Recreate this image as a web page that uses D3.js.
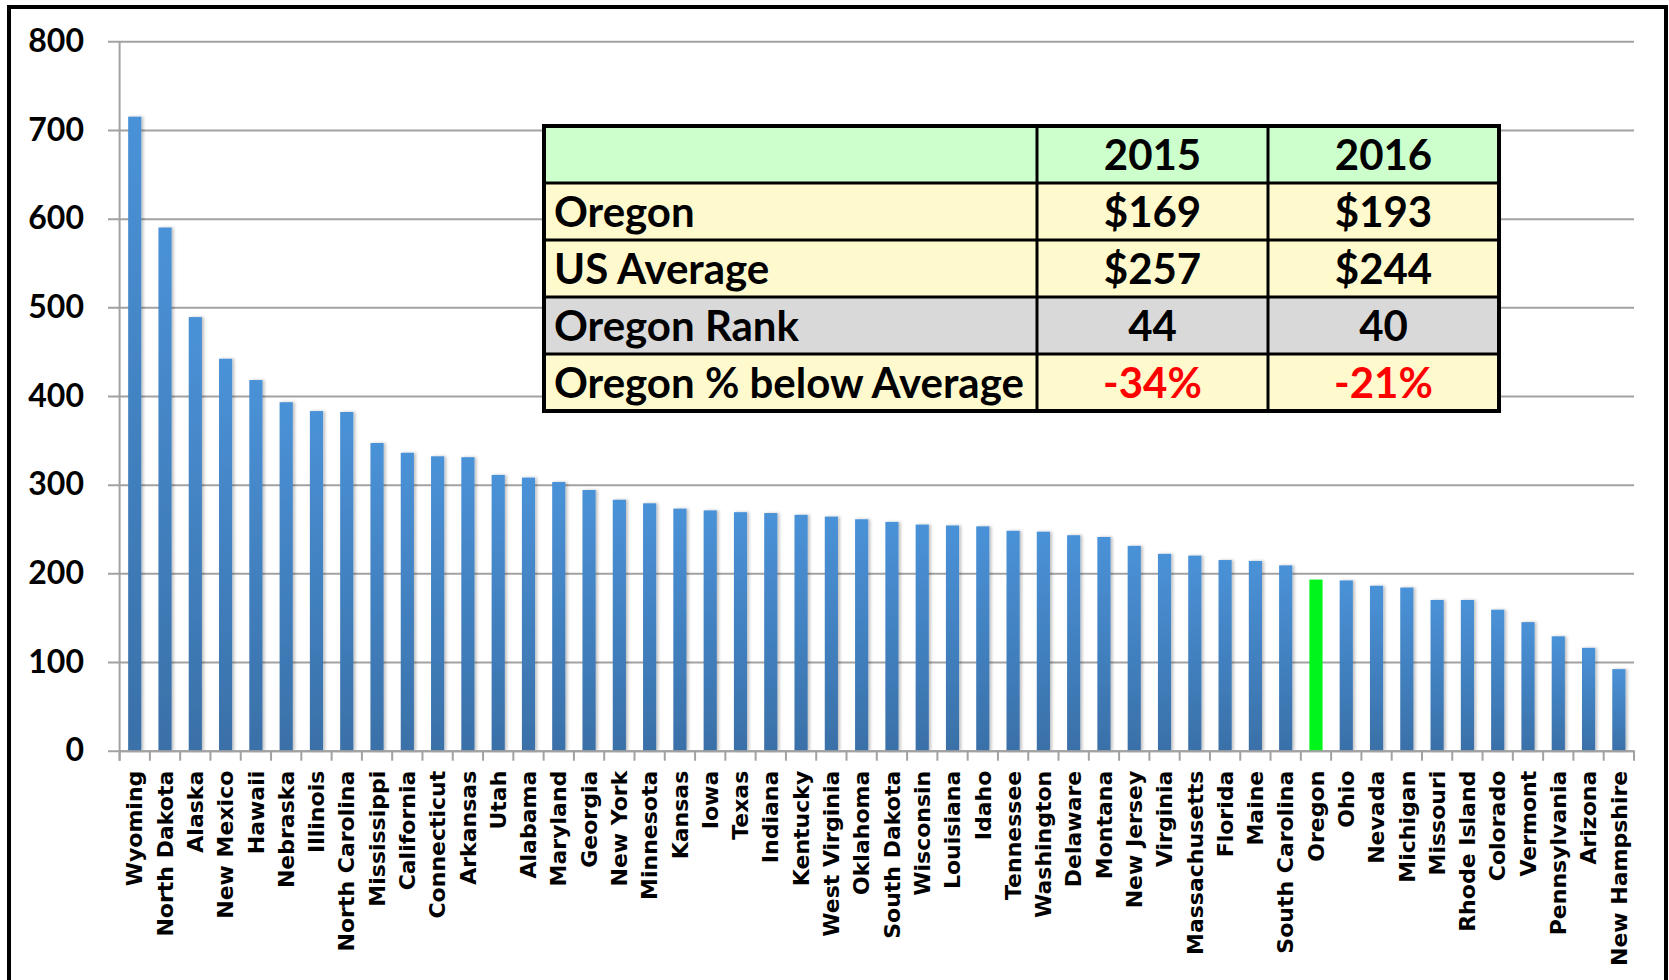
<!DOCTYPE html>
<html>
<head>
<meta charset="utf-8">
<script src="https://cdnjs.cloudflare.com/ajax/libs/d3/7.8.5/d3.min.js"></script>
<style>
  body { margin: 0; background: #fff; }
</style>
</head>
<body>
<div id="chart"></div>
<script>
var svgWidth = 1669;
var svgHeight = 980;

// plot area (pixels)
var plot = { left: 119.6, right: 1634, top: 41.3, bottom: 750.7 };

// per-state values, sorted high to low
var states = ["Wyoming", "North Dakota", "Alaska", "New Mexico", "Hawaii", "Nebraska",
  "Illinois", "North Carolina", "Mississippi", "California", "Connecticut", "Arkansas",
  "Utah", "Alabama", "Maryland", "Georgia", "New York", "Minnesota", "Kansas", "Iowa",
  "Texas", "Indiana", "Kentucky", "West Virginia", "Oklahoma", "South Dakota", "Wisconsin",
  "Louisiana", "Idaho", "Tennessee", "Washington", "Delaware", "Montana", "New Jersey",
  "Virginia", "Massachusetts", "Florida", "Maine", "South Carolina", "Oregon", "Ohio",
  "Nevada", "Michigan", "Missouri", "Rhode Island", "Colorado", "Vermont", "Pennsylvania",
  "Arizona", "New Hampshire"];
var values = [715, 590, 489, 442, 418, 393, 383, 382, 347, 336, 332, 331, 311, 308, 303,
  294, 283, 279, 273, 271, 269, 268, 266, 264, 261, 258, 255, 254, 253, 248, 247, 243,
  241, 231, 222, 220, 215, 214, 209, 193, 192, 186, 184, 170, 170, 159, 145, 129, 116, 92];
var highlightState = "Oregon";
var yTicks = [0, 100, 200, 300, 400, 500, 600, 700, 800];

// summary table
var tableHeader = ["", "2015", "2016"];
var tableLabels = ["Oregon", "US Average", "Oregon Rank", "Oregon % below Average"];
var table2015 = ["$169", "$257", "44", "-34%"];
var table2016 = ["$193", "$244", "40", "-21%"];

var data = states.map(function(s, i) { return { state: s, value: values[i] }; });

var svg = d3.select("#chart")
  .append("svg")
  .attr("width", svgWidth)
  .attr("height", svgHeight);

var defs = svg.append("defs");
var grad = defs.append("linearGradient")
  .attr("id", "barGrad")
  .attr("x1", 0).attr("y1", 0).attr("x2", 0).attr("y2", 1);
grad.append("stop").attr("offset", "0%").attr("stop-color", "#4a92d8");
grad.append("stop").attr("offset", "100%").attr("stop-color", "#3a70a8");

var shadow = defs.append("filter").attr("id", "barShadow")
  .attr("x", "-50%").attr("y", "-5%").attr("width", "200%").attr("height", "110%");
shadow.append("feDropShadow")
  .attr("dx", 2).attr("dy", 0).attr("stdDeviation", 1.5)
  .attr("flood-color", "#000").attr("flood-opacity", 0.25);

// scales
var x = d3.scaleBand()
  .domain(states)
  .range([plot.left, plot.right])
  .paddingInner(0.565)
  .paddingOuter(0.2825);

var y = d3.scaleLinear()
  .domain([0, 800])
  .range([plot.bottom, plot.top]);

// gridlines + y labels
var yAxis = svg.append("g")
  .attr("transform", `translate(${plot.right}, 0)`)
  .call(d3.axisLeft(y).tickValues(yTicks).tickSize(plot.right - 108).tickPadding(24));
yAxis.select(".domain").remove();
yAxis.selectAll("line")
  .attr("stroke", "#a2a2a2")
  .attr("stroke-width", 2);
yAxis.selectAll("text")
  .attr("fill", "#000")
  .style("font-family", "Lato, sans-serif")
  .style("font-weight", "700")
  .style("font-size", "32px");

// y axis line
svg.append("line")
  .attr("x1", plot.left).attr("x2", plot.left)
  .attr("y1", plot.top).attr("y2", plot.bottom + 10)
  .attr("stroke", "#a2a2a2")
  .attr("stroke-width", 2);

// bars
svg.append("g")
  .selectAll("rect")
  .data(data)
  .enter()
  .append("rect")
  .attr("x", d => x(d.state))
  .attr("y", d => y(d.value))
  .attr("width", x.bandwidth())
  .attr("height", d => y(0) - y(d.value))
  .attr("fill", d => d.state === highlightState ? "#00f51a" : "url(#barGrad)")
  .attr("filter", d => d.state === highlightState ? null : "url(#barShadow)");

// x axis: category labels
var xAxis = svg.append("g")
  .attr("transform", `translate(0, ${plot.bottom})`)
  .call(d3.axisBottom(x).tickSize(0));
xAxis.select(".domain")
  .attr("stroke", "#a2a2a2")
  .attr("stroke-width", 2);
xAxis.selectAll("text")
  .attr("transform", "rotate(-90)")
  .attr("x", -20)
  .attr("y", 0)
  .attr("dy", "0.35em")
  .attr("fill", "#000")
  .style("text-anchor", "end")
  .style("font-family", "'DejaVu Sans', sans-serif")
  .style("font-weight", "700")
  .style("font-size", "22px");

// tick marks between categories
var half = (x.step() - x.bandwidth()) / 2;
var bounds = states.map(s => x(s) - half).concat([plot.right]);
svg.append("g")
  .selectAll("line")
  .data(bounds)
  .enter()
  .append("line")
  .attr("x1", d => d).attr("x2", d => d)
  .attr("y1", plot.bottom).attr("y2", plot.bottom + 10)
  .attr("stroke", "#a2a2a2")
  .attr("stroke-width", 2);

// summary table
var colX = [544, 1037, 1268, 1499];
var rowY = [126, 183, 240, 297, 354, 411];
var rowFill = ["#ccffcc", "#fffacd", "#fffacd", "#d9d9d9", "#fffacd"];

var rows = [tableHeader].concat(tableLabels.map(function(l, i) {
  return [l, table2015[i], table2016[i]];
}));

var tableG = svg.append("g");
rows.forEach(function(row, r) {
  tableG.append("rect")
    .attr("x", colX[0]).attr("y", rowY[r])
    .attr("width", colX[3] - colX[0]).attr("height", rowY[r + 1] - rowY[r])
    .attr("fill", rowFill[r]);
  row.forEach(function(cell, c) {
    var red = cell.charAt(0) === "-";
    tableG.append("text")
      .attr("x", c === 0 ? colX[0] + 10 : (colX[c] + colX[c + 1]) / 2)
      .attr("y", (rowY[r] + rowY[r + 1]) / 2 + 15)
      .attr("text-anchor", c === 0 ? "start" : "middle")
      .attr("fill", red ? "#ff0000" : "#000")
      .style("font-family", "Lato, sans-serif")
      .style("font-weight", "700")
      .style("font-size", "42px")
      .text(cell);
  });
});
// inner lines
rowY.slice(1, -1).forEach(function(yy) {
  tableG.append("line")
    .attr("x1", colX[0]).attr("x2", colX[3])
    .attr("y1", yy).attr("y2", yy)
    .attr("stroke", "#000").attr("stroke-width", 3);
});
colX.slice(1, -1).forEach(function(xx) {
  tableG.append("line")
    .attr("x1", xx).attr("x2", xx)
    .attr("y1", rowY[0]).attr("y2", rowY[rowY.length - 1])
    .attr("stroke", "#000").attr("stroke-width", 3);
});
tableG.append("rect")
  .attr("x", colX[0]).attr("y", rowY[0])
  .attr("width", colX[3] - colX[0]).attr("height", rowY[rowY.length - 1] - rowY[0])
  .attr("fill", "none")
  .attr("stroke", "#000").attr("stroke-width", 4);

// outer frame
svg.append("rect")
  .attr("x", 9).attr("y", 7)
  .attr("width", 1657).attr("height", 1000)
  .attr("fill", "none")
  .attr("stroke", "#000")
  .attr("stroke-width", 4);
</script>
</body>
</html>
